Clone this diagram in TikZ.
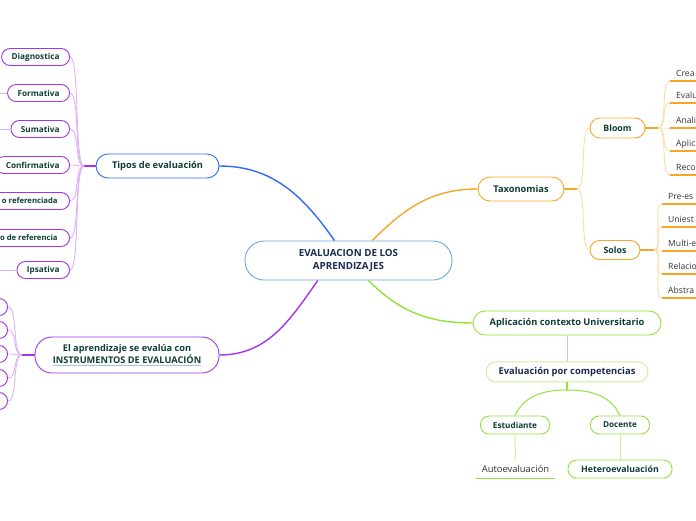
\documentclass[tikz,border=0pt]{standalone}
\usepackage{fontspec}
\setmainfont{Open Sans}
\usetikzlibrary{positioning}
\definecolor{txt}{HTML}{0E3D35}
\definecolor{navy}{HTML}{1C2C4E}
\definecolor{leaftxt}{HTML}{333333}
\definecolor{cbord}{HTML}{6AA6E0}
\definecolor{cblue}{HTML}{2F6BF5}
\definecolor{cpurp}{HTML}{A233EE}
\definecolor{lpurp}{HTML}{DDB0F8}
\definecolor{corng}{HTML}{F8A52A}
\definecolor{lorng}{HTML}{FDDCA6}
\definecolor{clime}{HTML}{8FE33A}
\definecolor{llime}{HTML}{C9F196}
\definecolor{lblue}{HTML}{B7C6F2}
\definecolor{ulc}{HTML}{A9C4D6}

\begin{document}
\begin{tikzpicture}[x=1pt,y=-1pt,
  box/.style={draw,fill=white,text=txt,rounded corners=8.5pt,line width=0.9pt,minimum height=17pt,inner ysep=1pt,font=\bfseries\fontsize{8.2}{9}\selectfont},
  kid/.style={box,draw=cpurp,anchor=east,inner xsep=10pt},
  big/.style={box,rounded corners=12pt,minimum height=24pt,font=\bfseries\fontsize{9.3}{11}\selectfont},
  leaf/.style={anchor=south west,inner xsep=6pt,inner ysep=2.5pt,text=leaftxt,text height=6pt,text depth=1.8pt,font=\fontsize{8.6}{10}\selectfont},
  lbranch/.style={to path={.. controls +(-10,0) and +(10,0) .. (\tikztotarget)}},
  rbranch/.style={to path={.. controls +(10,0) and +(-10,0) .. (\tikztotarget)}},
  uline/.style={line width=1.4pt}]
\useasboundingbox (0,0) rectangle (696,520);

% centro
\node[box,draw=cbord,text=navy,rounded corners=19pt,minimum width=207pt,minimum height=39pt,align=center,font=\bfseries\fontsize{9.8}{12.5}\selectfont] (central) at (348.5,260.5) {EVALUACION DE LOS\\APRENDIZAJES};

% tipos de evaluacion
\node[big,draw=cblue,minimum width=123pt] (tipos) at (157.5,166) {Tipos de evaluación};
\node[kid] (diag) at (70,57) {Diagnostica};
\node[kid] (form) at (70,93) {Formativa};
\node[kid] (suma) at (70,129) {Sumativa};
\node[kid] (conf) at (70,165) {Confirmativa};
\node[kid,inner xsep=12pt,font=\bfseries\fontsize{7.7}{9}\selectfont] (oref) at (70,201) {o referenciada};
\node[kid,inner xsep=12pt,font=\bfseries\fontsize{7.7}{9}\selectfont] (odref) at (70,238) {o de referencia};
\node[kid] (ipsa) at (70,270) {Ipsativa};
\coordinate (jt) at (84,166);
\coordinate (fs) at (-5,93);
\coordinate (ss) at (-5,129);
\coordinate (is) at (-5,270);

% instrumentos
\node[big,draw=cpurp,minimum width=184pt,minimum height=36pt,rounded corners=17pt,align=center,font=\bfseries\fontsize{9.2}{12}\selectfont] (instr) at (127,355) {El aprendizaje se evalúa con\\{\color{ulc}\underline{\textcolor{txt}{INSTRUMENTOS DE EVALUACIÓN}}}};
\node[kid,minimum width=30pt] (i1) at (8,307) {};
\node[kid,minimum width=30pt] (i2) at (8,330) {};
\node[kid,minimum width=30pt] (i3) at (8,354) {};
\node[kid,minimum width=30pt] (i4) at (8,378) {};
\node[kid,minimum width=30pt] (i5) at (8,401) {};
\coordinate (ij) at (22,355);

% taxonomias
\node[big,draw=corng,minimum width=86pt] (taxo) at (521,189) {Taxonomias};
\node[box,draw=corng,minimum width=55pt,minimum height=20pt,rounded corners=10pt,font=\bfseries\fontsize{8.8}{10}\selectfont] (bloom) at (617.5,128) {Bloom};
\node[box,draw=corng,minimum width=50pt,minimum height=19pt,rounded corners=9.5pt,font=\bfseries\fontsize{8.8}{10}\selectfont] (solos) at (615,250) {Solos};
\coordinate (tj) at (577,189);
\coordinate (bj) at (658,128);
\coordinate (sj) at (654,250);
\node[leaf] (crea) at (670,81) {Crea};
\node[leaf] (evalu) at (670,103) {Evalu};
\node[leaf] (anali) at (670,128) {Anali};
\node[leaf] (aplic) at (670,151) {Aplic};
\node[leaf] (reco) at (670,175) {Reco};
\node[leaf] (pre) at (662,204) {Pre-es};
\node[leaf] (uni) at (662,227) {Uniest};
\node[leaf] (multi) at (662,251) {Multi-e};
\node[leaf] (rela) at (662,274) {Relacio};
\node[leaf] (abst) at (662,298) {Abstra};

% contexto universitario
\node[big,draw=clime,minimum width=188pt] (aplica) at (567,323) {Aplicación contexto Universitario};
\node[box,draw=llime,text=navy,minimum width=162pt,minimum height=20pt,rounded corners=10pt,font=\bfseries\fontsize{9.4}{11}\selectfont,below=26pt of aplica] (compe) {Evaluación por competencias};
\node[box,draw=clime,minimum width=69pt,minimum height=18pt] (estu) at (515,425) {Estudiante};
\node[box,draw=clime,minimum width=59pt,minimum height=18pt] (doce) at (620,425) {Docente};
\node[box,draw=clime,minimum width=104pt,minimum height=18pt,font=\bfseries\fontsize{8.8}{10}\selectfont] (hetero) at (620,469) {Heteroevaluación};
\node[text=leaftxt,font=\fontsize{9.4}{11}\selectfont,minimum width=79pt,minimum height=18pt] (auto) at (515.5,469) {Autoevaluación};
\coordinate (ej) at (567,390);

% conectores
\path[cblue,line width=1.4pt] (tipos.east) edge[out=0,in=125] (central.125);
\path[cpurp,line width=1.4pt] (instr.east) edge[out=0,in=235] (central.213);
\path[corng,line width=1.4pt] (central.40) edge[out=45,in=180] (taxo.west);
\path[clime,line width=1.4pt] (central.315) edge[out=-45,in=180] (aplica.west);

\draw[cpurp,line width=1.2pt] (tipos.west) -- (jt);
\path[lpurp,line width=0.9pt] (jt) edge[lbranch] (diag.east) edge[lbranch] (form.east)
  edge[lbranch] (suma.east) edge[lbranch] (conf.east) edge[lbranch] (oref.east)
  edge[lbranch] (odref.east) edge[lbranch] (ipsa.east)
  (form.west) edge (fs) (suma.west) edge (ss) (ipsa.west) edge (is);

\draw[cpurp,line width=1.2pt] (instr.west) -- (ij);
\path[lpurp,line width=0.9pt] (ij) edge[lbranch] (i1.east) edge[lbranch] (i2.east)
  edge[lbranch] (i3.east) edge[lbranch] (i4.east) edge[lbranch] (i5.east);

\draw[corng,line width=1.2pt] (taxo.east) -- (tj);
\path[lorng,line width=0.9pt] (tj) edge[rbranch] (bloom.west) edge[rbranch] (solos.west);
\draw[corng,line width=1.2pt] (bloom.east) -- (bj);
\draw[corng,line width=1.2pt] (solos.east) -- (sj);
\path[lorng,line width=0.9pt] (bj) edge[rbranch] (crea.south west) edge[rbranch] (evalu.south west)
  edge[rbranch] (anali.south west) edge[rbranch] (aplic.south west) edge[rbranch] (reco.south west);
\path[lorng,line width=0.9pt] (sj) edge[rbranch] (pre.south west) edge[rbranch] (uni.south west)
  edge[rbranch] (multi.south west) edge[rbranch] (rela.south west) edge[rbranch] (abst.south west);
\draw[corng,uline] (crea.south west) -- ++(40,0);
\draw[corng,uline] (evalu.south west) -- ++(40,0);
\draw[corng,uline] (anali.south west) -- ++(40,0);
\draw[corng,uline] (aplic.south west) -- ++(40,0);
\draw[corng,uline] (reco.south west) -- ++(40,0);
\draw[corng,uline] (pre.south west) -- ++(40,0);
\draw[corng,uline] (uni.south west) -- ++(40,0);
\draw[corng,uline] (multi.south west) -- ++(40,0);
\draw[corng,uline] (rela.south west) -- ++(40,0);
\draw[corng,uline] (abst.south west) -- ++(40,0);

\draw[lblue,line width=1pt] (aplica.south) -- (compe.north);
\draw[clime,line width=1.2pt] (compe.south) -- (ej);
\path[clime,line width=1pt] (ej) edge[out=180,in=65] (estu.north) edge[out=0,in=115] (doce.north);
\path[llime,line width=1pt] (estu.south) edge (auto.north) (doce.south) edge (hetero.north);
\draw[clime,uline] (auto.south west) -- (auto.south east);
\end{tikzpicture}
\end{document}
